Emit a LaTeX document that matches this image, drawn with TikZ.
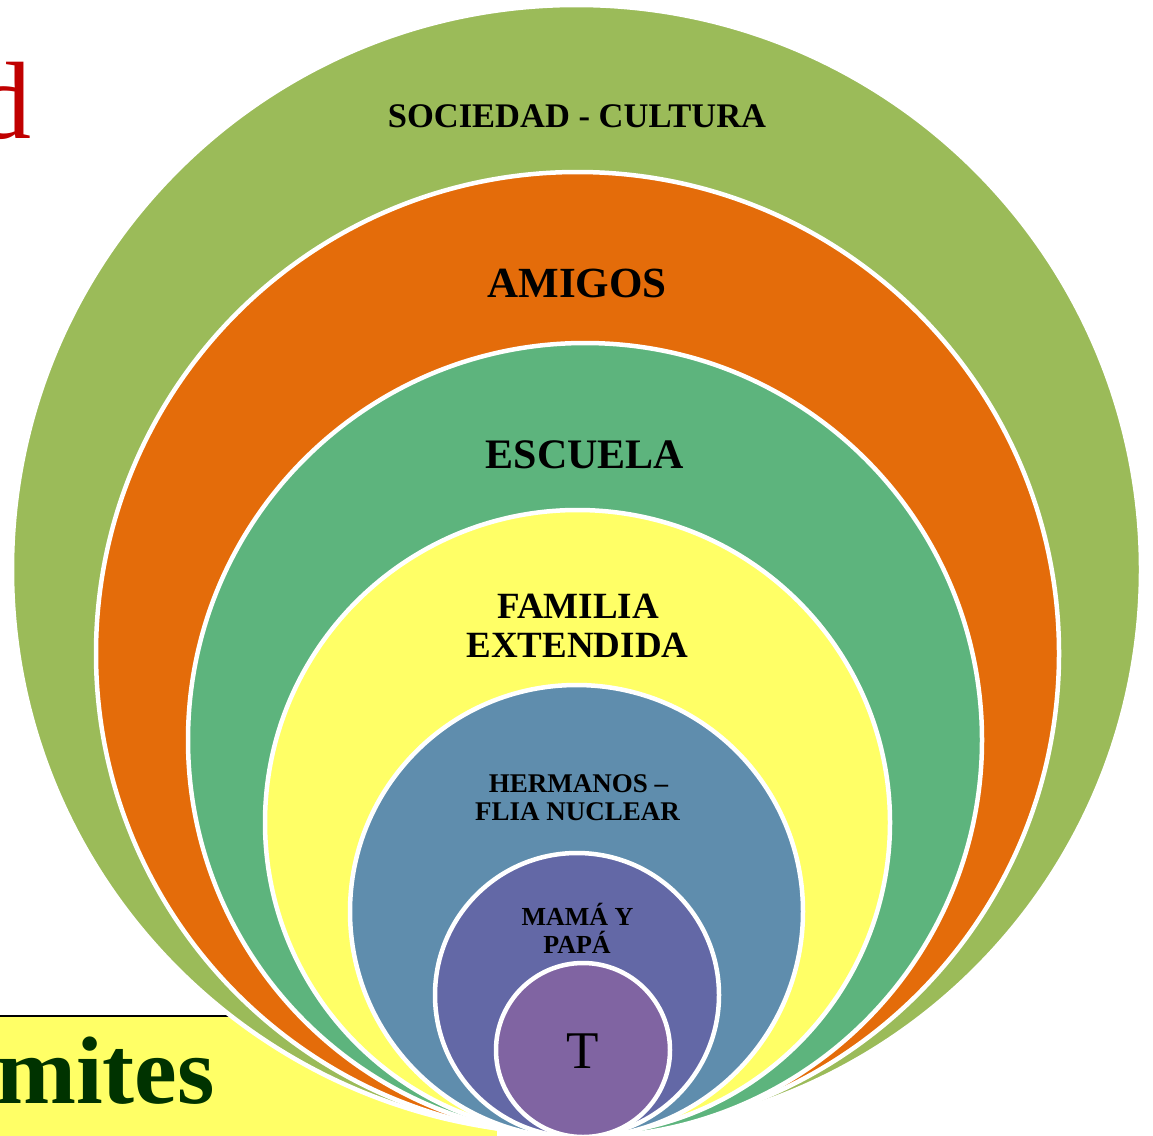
\documentclass[tikz,border=0pt]{standalone}
\usepackage{fontspec}
\setmainfont{Liberation Serif}
\definecolor{cOlive}{HTML}{9BBB59}
\definecolor{cOrange}{HTML}{E46C0A}
\definecolor{cTeal}{HTML}{5DB47D}
\definecolor{cYellow}{HTML}{FFFF66}
\definecolor{cBlue}{HTML}{5F8DAD}
\definecolor{cIndigo}{HTML}{6368A6}
\definecolor{cPurple}{HTML}{8064A2}
\definecolor{cDarkGreen}{HTML}{003300}
\definecolor{cRed}{HTML}{C00000}
\begin{document}
\begin{tikzpicture}[x=1pt,y=-1pt,
  ring/.style={draw=white,line width=4.5pt},
  lbl/.style={inner sep=0pt,outer sep=0pt,text=black,anchor=base},
  fs/.style={font=\fontsize{#1}{#1}\selectfont\bfseries}]
\useasboundingbox (0,0) rectangle (1153,1135);
\clip (0,0) rectangle (1153,1135);
\fill[white] (0,0) rectangle (1153,1135);
% yellow title band at bottom left
\fill[cYellow] (-10,1016) rectangle (497,1150);
\draw[black,line width=1.8pt] (-10,1016) -- (300,1016);
\node[inner sep=0pt,anchor=base east,text=cDarkGreen,font=\fontsize{96}{96}\selectfont\bfseries] (tmites) at (215,1103) {mites};
\node[inner sep=0pt,anchor=base east,text=cRed,font=\fontsize{110}{110}\selectfont] (td) at (32,138) {d};
% nested circles
\draw[ring,fill=cOlive]  (576.5,569.5) circle[radius=564.5];
\draw[ring,fill=cOrange] (577.5,653.5) circle[radius=481.5];
\draw[ring,fill=cTeal]   (585,740)     circle[radius=397];
\draw[ring,fill=cYellow] (577.5,822.5) circle[radius=312.5];
\draw[ring,fill=cBlue]   (576.5,911.5) circle[radius=226.5];
\draw[ring,fill=cIndigo] (577,995)     circle[radius=142];
\draw[ring,fill=cPurple] (583,1050)    circle[radius=87];
% labels
\node[lbl,fs=34.5] (lsoc) at (577,127) {SOCIEDAD - CULTURA};
\node[lbl,fs=43] (lami) at (577,297) {AMIGOS};
\node[lbl,fs=42] (lesc) at (585,468) {ESCUELA};
\node[lbl,fs=37] (lfamA) at (578,618) {FAMILIA};
\node[lbl,fs=37] (lfamB) at (577.5,657) {EXTENDIDA};
\node[lbl,fs=27] (lherA) at (578.5,792) {HERMANOS –};
\node[lbl,fs=27] (lherB) at (577.5,820) {FLIA NUCLEAR};
\node[lbl,fs=26] (lmamA) at (577.5,925) {MAMÁ Y};
\node[lbl,fs=26] (lmamB) at (577,953) {PAPÁ};
\node[lbl,font=\fontsize{53}{53}\selectfont] (lt) at (582.5,1068) {T};
\end{tikzpicture}
\end{document}
